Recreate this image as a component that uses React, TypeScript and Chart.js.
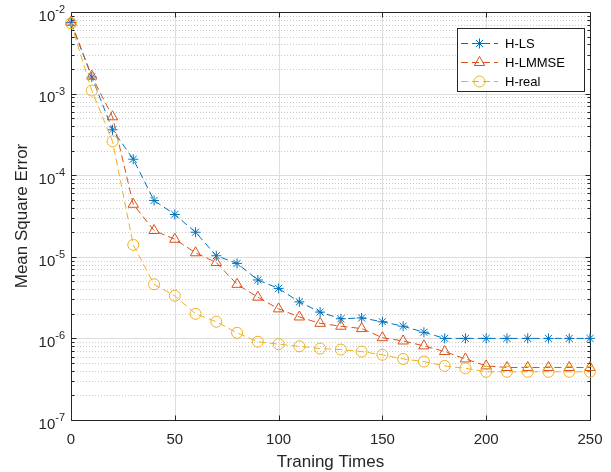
import React, { useEffect, useRef } from 'react';
import { Chart, registerables } from 'chart.js';

Chart.register(...registerables);

// ---- data ----
const trainingTimes = [0, 10, 20, 30, 40, 50, 60, 70, 80, 90, 100, 110, 120, 130, 140, 150, 160, 170, 180, 190, 200, 210, 220, 230, 240, 250];
const hLS = [7.4e-3, 1.6e-3, 3.6e-4, 1.57e-4, 4.9e-5, 3.3e-5, 2.0e-5, 1.03e-5, 8.3e-6, 5.2e-6, 4.1e-6, 2.8e-6, 2.1e-6, 1.74e-6, 1.78e-6, 1.6e-6, 1.41e-6, 1.19e-6, 1.0e-6, 1.0e-6, 1.0e-6, 1.0e-6, 1.0e-6, 1.0e-6, 1.0e-6, 1.0e-6];
const hLMMSE = [7.5e-3, 1.64e-3, 5.2e-4, 4.4e-5, 2.1e-5, 1.64e-5, 1.12e-5, 8.5e-6, 4.6e-6, 3.2e-6, 2.3e-6, 1.83e-6, 1.53e-6, 1.41e-6, 1.32e-6, 1.02e-6, 9.3e-7, 8.1e-7, 6.9e-7, 5.6e-7, 4.6e-7, 4.4e-7, 4.4e-7, 4.4e-7, 4.4e-7, 4.4e-7];
const hReal = [7.3e-3, 1.09e-3, 2.6e-4, 1.4e-5, 4.6e-6, 3.33e-6, 2.0e-6, 1.6e-6, 1.17e-6, 9.1e-7, 8.5e-7, 8.0e-7, 7.5e-7, 7.3e-7, 6.9e-7, 6.3e-7, 5.6e-7, 5.2e-7, 4.6e-7, 4.3e-7, 3.9e-7, 3.9e-7, 3.9e-7, 3.9e-7, 3.9e-7, 3.9e-7];
const seriesNames = ['H-LS', 'H-LMMSE', 'H-real'];
const seriesColors = ['#0072BD', '#D95319', '#EDB120'];
const seriesMarkers = ['star', 'triangle', 'circle'];
const xTickValues = [0, 50, 100, 150, 200, 250];
const yExponents = [-7, -6, -5, -4, -3, -2];
const xTitle = 'Traning Times';
const yTitle = 'Mean Square Error';

const FONT = '"Liberation Sans", Arial, Helvetica, sans-serif';
const AXIS = '#262626';
const DASH = [7, 4];

function drawMarker(ctx: CanvasRenderingContext2D, style: string, x: number, y: number, r: number) {
  ctx.beginPath();
  if (style === 'circle') {
    ctx.arc(x, y, r, 0, Math.PI * 2);
  } else if (style === 'triangle') {
    ctx.moveTo(x, y - r);
    ctx.lineTo(x + 0.866 * r, y + 0.5 * r);
    ctx.lineTo(x - 0.866 * r, y + 0.5 * r);
    ctx.closePath();
  } else {
    for (let k = 0; k < 4; k++) {
      const a = (k * Math.PI) / 4;
      ctx.moveTo(x - Math.cos(a) * r, y - Math.sin(a) * r);
      ctx.lineTo(x + Math.cos(a) * r, y + Math.sin(a) * r);
    }
  }
  ctx.stroke();
}

const matlabPlugin = {
  id: 'matlabAxes',
  beforeDatasetsDraw(chart: any) {
    const { ctx, chartArea: a, scales } = chart;
    const xs = scales.x;
    const ys = scales.y;
    ctx.save();
    ctx.lineWidth = 1;
    // minor y grid
    ctx.strokeStyle = '#cccccc';
    ctx.setLineDash([1, 2]);
    for (let i = 0; i < yExponents.length - 1; i++) {
      for (let m = 2; m <= 9; m++) {
        const py = Math.round(ys.getPixelForValue(m * Math.pow(10, yExponents[i]))) + 0.5;
        ctx.beginPath();
        ctx.moveTo(a.left, py);
        ctx.lineTo(a.right, py);
        ctx.stroke();
      }
    }
    ctx.setLineDash([]);
    // major grid
    ctx.strokeStyle = '#dedede';
    yExponents.forEach((e) => {
      const py = Math.round(ys.getPixelForValue(Math.pow(10, e))) + 0.5;
      ctx.beginPath();
      ctx.moveTo(a.left, py);
      ctx.lineTo(a.right, py);
      ctx.stroke();
    });
    xTickValues.forEach((v) => {
      const px = Math.round(xs.getPixelForValue(v)) + 0.5;
      ctx.beginPath();
      ctx.moveTo(px, a.top);
      ctx.lineTo(px, a.bottom);
      ctx.stroke();
    });
    // box
    ctx.strokeStyle = AXIS;
    const L = Math.round(a.left) + 0.5;
    const R = Math.round(a.right) + 0.5;
    const T = Math.round(a.top) + 0.5;
    const B = Math.round(a.bottom) + 0.5;
    ctx.beginPath();
    ctx.rect(L, T, R - L, B - T);
    ctx.stroke();
    // ticks
    ctx.beginPath();
    xTickValues.forEach((v) => {
      const px = Math.round(xs.getPixelForValue(v)) + 0.5;
      ctx.moveTo(px, B);
      ctx.lineTo(px, B - 5);
      ctx.moveTo(px, T);
      ctx.lineTo(px, T + 5);
    });
    yExponents.forEach((e, i) => {
      const py = Math.round(ys.getPixelForValue(Math.pow(10, e))) + 0.5;
      ctx.moveTo(L, py);
      ctx.lineTo(L + 5, py);
      ctx.moveTo(R, py);
      ctx.lineTo(R - 5, py);
      if (i < yExponents.length - 1) {
        for (let m = 2; m <= 9; m++) {
          const pm = Math.round(ys.getPixelForValue(m * Math.pow(10, e))) + 0.5;
          ctx.moveTo(L, pm);
          ctx.lineTo(L + 3, pm);
          ctx.moveTo(R, pm);
          ctx.lineTo(R - 3, pm);
        }
      }
    });
    ctx.stroke();
    ctx.restore();
  },
  afterDraw(chart: any) {
    const { ctx, chartArea: a, scales } = chart;
    const xs = scales.x;
    const ys = scales.y;
    ctx.save();
    ctx.fillStyle = AXIS;
    // x tick labels
    ctx.font = `15px ${FONT}`;
    ctx.textAlign = 'center';
    ctx.textBaseline = 'alphabetic';
    xTickValues.forEach((v) => {
      ctx.fillText(String(v), xs.getPixelForValue(v), a.bottom + 23.5);
    });
    // y tick labels 10^e
    yExponents.forEach((e) => {
      const py = ys.getPixelForValue(Math.pow(10, e));
      const expText = String(e);
      ctx.font = `11px ${FONT}`;
      const ew = ctx.measureText(expText).width;
      ctx.textAlign = 'left';
      const right = a.left - 6;
      ctx.fillText(expText, right - ew, py + 1);
      ctx.font = `15px ${FONT}`;
      const bw = ctx.measureText('10').width;
      ctx.fillText('10', right - ew - bw, py + 8.7);
    });
    // axis titles
    ctx.font = `17px ${FONT}`;
    ctx.textAlign = 'center';
    ctx.fillText(xTitle, (a.left + a.right) / 2, 467);
    ctx.save();
    ctx.translate(27, (a.top + a.bottom) / 2);
    ctx.rotate(-Math.PI / 2);
    ctx.fillText(yTitle, 0, 0);
    ctx.restore();
    // legend
    const bx = 457.5, by = 28.5, bw = 127, bh = 63;
    ctx.fillStyle = '#ffffff';
    ctx.fillRect(bx, by, bw, bh);
    ctx.strokeStyle = AXIS;
    ctx.lineWidth = 1;
    ctx.strokeRect(bx, by, bw, bh);
    ctx.font = `13px ${FONT}`;
    ctx.textAlign = 'left';
    ctx.textBaseline = 'middle';
    seriesNames.forEach((name, i) => {
      const cy = Math.round(42.5 + i * 19) + 0.5;
      ctx.strokeStyle = seriesColors[i];
      ctx.setLineDash(DASH);
      ctx.beginPath();
      ctx.moveTo(461, cy);
      ctx.lineTo(498, cy);
      ctx.stroke();
      ctx.setLineDash([]);
      drawMarker(ctx, seriesMarkers[i], 479.5, cy, seriesMarkers[i] === 'triangle' ? 6 : seriesMarkers[i] === 'circle' ? 5.5 : 5);
      ctx.fillStyle = '#000000';
      ctx.fillText(name, 505, cy + 0.5);
    });
    ctx.restore();
  },
};

export default function App() {
  const ref = useRef<HTMLCanvasElement>(null);
  useEffect(() => {
    if (!ref.current) return;
    const series = [hLS, hLMMSE, hReal];
    const chart = new Chart(ref.current, {
      type: 'line',
      data: {
        datasets: series.map((vals, i) => ({
          label: seriesNames[i],
          data: trainingTimes.map((t, k) => ({ x: t, y: vals[k] })),
          borderColor: seriesColors[i],
          backgroundColor: 'transparent',
          borderWidth: 1,
          borderDash: DASH,
          fill: false,
          tension: 0,
          pointStyle: seriesMarkers[i] as any,
          pointRadius: seriesMarkers[i] === 'triangle' ? 6 : seriesMarkers[i] === 'circle' ? 5.5 : 5,
          pointBorderWidth: 1,
          pointBorderColor: seriesColors[i],
          pointBackgroundColor: 'transparent',
          pointHoverRadius: 5,
          clip: false as any,
          order: 3 - i,
        })),
      },
      options: {
        responsive: false,
        animation: false,
        events: [],
        layout: { padding: { top: 12, right: 21, left: 0, bottom: 0 } },
        plugins: { legend: { display: false }, tooltip: { enabled: false } },
        scales: {
          x: {
            type: 'linear',
            min: 0,
            max: 250,
            ticks: { display: false },
            grid: { display: false },
            border: { display: false },
            afterFit: (s: any) => { s.height = 52; },
          },
          y: {
            type: 'logarithmic',
            min: 1e-7,
            max: 1e-2,
            ticks: { display: false },
            grid: { display: false },
            border: { display: false },
            afterFit: (s: any) => { s.width = 71; },
          },
        },
      },
      plugins: [matlabPlugin],
    } as any);
    return () => chart.destroy();
  }, []);
  return (
    <canvas
      ref={ref}
      width={611}
      height={472}
      style={{ position: 'absolute', left: 0, top: 0, width: 611, height: 472 }}
    />
  );
}
